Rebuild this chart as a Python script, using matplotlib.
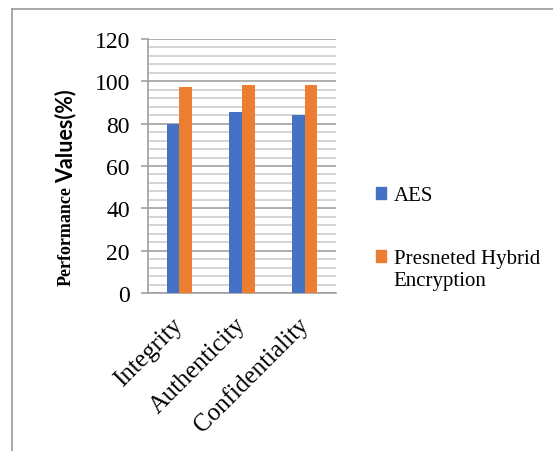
import matplotlib
matplotlib.use('Agg')
import matplotlib.pyplot as plt
from matplotlib.lines import Line2D
from matplotlib.patches import Patch, Rectangle
from matplotlib.legend_handler import HandlerPatch
import numpy as np

plt.rcParams.update({
    'font.family': 'serif',
    'font.serif': ['Liberation Serif', 'DejaVu Serif'],
    'font.size': 13,
})

categories = ['Integrity', 'Authenticity', 'Confidentiality']
aes = [80, 85.5, 84]
hybrid = [97.5, 98.3, 98.3]
series_names = ['AES', 'Presneted Hybrid\nEncryption']

C_AES = '#4472C4'
C_HYB = '#ED7D31'

W, H = 553, 452
fig = plt.figure(figsize=(W / 100, H / 100), dpi=100)
ax = fig.add_axes([148 / W, 1 - 294 / H, 188 / W, 254 / H])

x = np.arange(len(categories))
bw = 0.2
ax.bar(x - bw / 2, aes, bw, color=C_AES, zorder=3, label=series_names[0])
ax.bar(x + bw / 2, hybrid, bw, color=C_HYB, zorder=3, label=series_names[1])

ax.set_xlim(-0.5, 2.5)
ax.set_ylim(0, 120)
ax.set_yticks(np.arange(0, 121, 20))
ax.set_yticks(np.arange(0, 121, 4), minor=True)
ax.grid(axis='y', which='minor', color='#d4d4d4', lw=1.4, zorder=0)
ax.grid(axis='y', which='major', color='#a0a0a0', lw=1.2, zorder=1)
ax.tick_params(axis='y', which='major', length=5, width=1.2, color='#a0a0a0',
               pad=8, labelsize=17)
ax.tick_params(axis='y', which='minor', length=0)
ax.tick_params(axis='x', length=0, pad=20)

ax.set_xticks(x)
ax.set_xticklabels(categories, rotation=45, ha='right', va='center',
                   rotation_mode='anchor', fontsize=18)

for s in ['top', 'right']:
    ax.spines[s].set_visible(False)
for s in ['left', 'bottom']:
    ax.spines[s].set_color('#a0a0a0')
    ax.spines[s].set_linewidth(1.2)

# y label in two fonts, like the source
t1 = fig.text(66 / W, 1 - 286 / H, 'Performance', rotation=90, ha='center',
              va='bottom', fontsize=13, fontweight='bold')
fig.canvas.draw()
bb = t1.get_window_extent()
fig.text(66 / W, (bb.y1 + 3) / H, 'Values(%)', rotation=90, ha='center',
         va='bottom', fontsize=15.5, fontweight='bold',
         family=['Lato', 'DejaVu Sans'])


def raised(legend, orig_handle, xdescent, ydescent, width, height, fontsize):
    return Rectangle((-xdescent, -ydescent + 9), width, height)


handles = [Patch(color=C_AES), Patch(color=C_HYB)]
leg = fig.legend(handles, series_names, loc='upper left',
                 bbox_to_anchor=(376 / W, 1 - 187 / H), frameon=False,
                 borderpad=0, borderaxespad=0,
                 handlelength=0.5, handleheight=0.5, handletextpad=0.35,
                 labelspacing=2.1, fontsize=15,
                 handler_map={handles[1]: HandlerPatch(patch_func=raised)})

# outer frame (top and left only)
fig.add_artist(Line2D([12 / W, 1], [1 - 10 / H, 1 - 10 / H], color='#9a9a9a', lw=1.2,
                      transform=fig.transFigure))
fig.add_artist(Line2D([12 / W, 12 / W], [0, 1 - 10 / H], color='#9a9a9a', lw=1.2,
                      transform=fig.transFigure))

fig.savefig('out.png', dpi=100)
